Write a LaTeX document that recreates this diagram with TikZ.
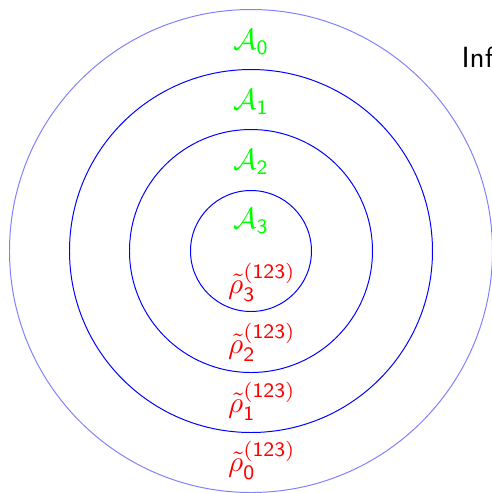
\documentclass[tikz,border=0pt]{standalone}
\usepackage{amsmath}
\begin{document}
\begin{tikzpicture}[x=0.0125cm,y=-0.0125cm,
  ring/.style={circle,draw=blue,line width=0.35pt,inner sep=0pt},
  alab/.style={text=green,scale=1.04},
  rlab/.style={text=red,scale=1.04}]
\useasboundingbox (0,0) rectangle (492,493);
\coordinate (c) at (251,251);
\node[ring,draw=blue!50,minimum size=483*0.0125cm] (r0) at (c) {};
\node[ring,minimum size=363*0.0125cm] (r1) at (c) {};
\node[ring,minimum size=243*0.0125cm] (r2) at (c) {};
\node[ring,minimum size=121*0.0125cm] (r3) at (c) {};
\node[alab] (a0) at (251,42) {$\mathcal{A}_{\mathsf{0}}$};
\node[alab] (a1) at (251,102) {$\mathcal{A}_{\mathsf{1}}$};
\node[alab] (a2) at (251,162) {$\mathcal{A}_{\mathsf{2}}$};
\node[alab] (a3) at (251,221) {$\mathcal{A}_{\mathsf{3}}$};
\node[rlab] (p3) at (262,282) {$\tilde{\rho}_{\mathsf{3}}^{(\mathsf{123})}$};
\node[rlab] (p2) at (262,342) {$\tilde{\rho}_{\mathsf{2}}^{(\mathsf{123})}$};
\node[rlab] (p1) at (262,401) {$\tilde{\rho}_{\mathsf{1}}^{(\mathsf{123})}$};
\node[rlab] (p0) at (262,460) {$\tilde{\rho}_{\mathsf{0}}^{(\mathsf{123})}$};
\node[anchor=west,inner sep=0pt,scale=1.04] (inf) at (461,57) {\sffamily Inf};
\end{tikzpicture}
\end{document}
